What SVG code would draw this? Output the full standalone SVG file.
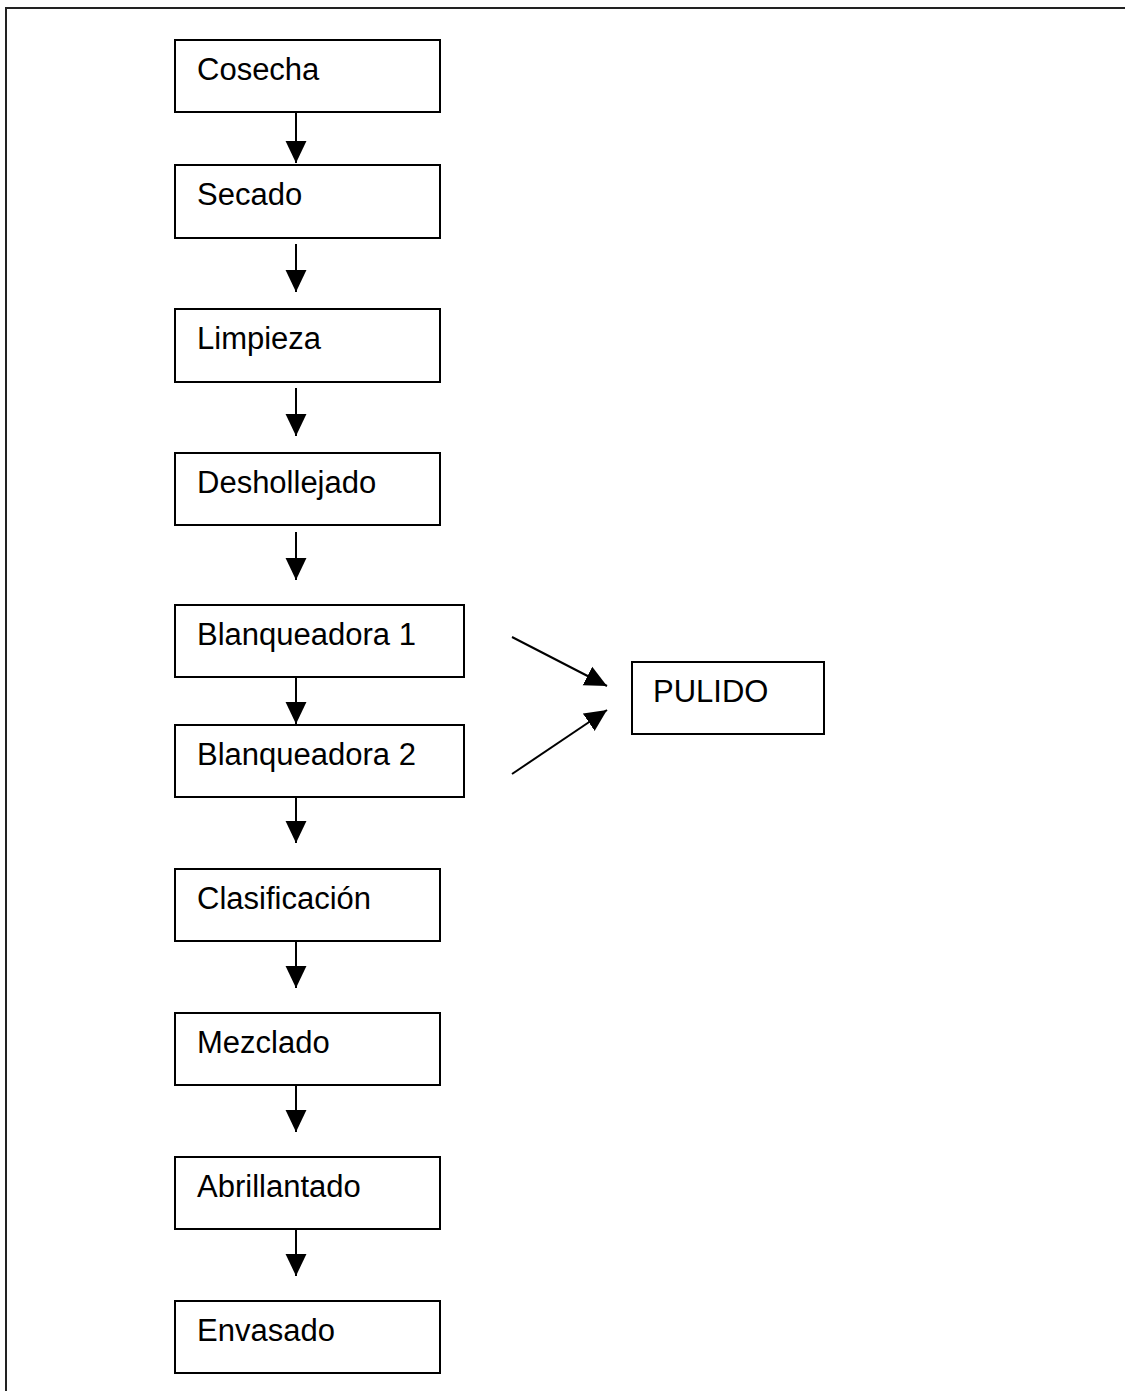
<svg xmlns="http://www.w3.org/2000/svg" width="1125" height="1391" viewBox="0 0 1125 1391">
<style>
.box{fill:#fff;stroke:#000;stroke-width:2}
.lbl{font-family:"Liberation Sans",Arial,sans-serif;font-size:31px;fill:#000}
.conn{stroke:#000;stroke-width:2;fill:none}
</style>
<defs>
<marker id="ah" markerUnits="userSpaceOnUse" markerWidth="22" markerHeight="22" viewBox="0 0 20 20" refX="20" refY="10" orient="auto">
<path d="M0,0.5 L20,10 L0,19.5 Z" fill="#000"/>
</marker>
</defs>
<rect width="1125" height="1391" fill="#fff"/>
<path d="M6,1391 V8 H1125" fill="none" stroke="#222" stroke-width="2"/>
<g id="cosecha"><rect class="box" x="175" y="40" width="265" height="72"/><text class="lbl" x="197" y="80">Cosecha</text></g>
<g id="secado"><rect class="box" x="175" y="165" width="265" height="73"/><text class="lbl" x="197" y="205">Secado</text></g>
<g id="limpieza"><rect class="box" x="175" y="309" width="265" height="73"/><text class="lbl" x="197" y="349">Limpieza</text></g>
<g id="deshollejado"><rect class="box" x="175" y="453" width="265" height="72"/><text class="lbl" x="197" y="493">Deshollejado</text></g>
<g id="blanqueadora1"><rect class="box" x="175" y="605" width="289" height="72"/><text class="lbl" x="197" y="645">Blanqueadora 1</text></g>
<g id="blanqueadora2"><rect class="box" x="175" y="725" width="289" height="72"/><text class="lbl" x="197" y="765">Blanqueadora 2</text></g>
<g id="pulido"><rect class="box" x="632" y="662" width="192" height="72"/><text class="lbl" x="653" y="702">PULIDO</text></g>
<g id="clasificacion"><rect class="box" x="175" y="869" width="265" height="72"/><text class="lbl" x="197" y="909">Clasificación</text></g>
<g id="mezclado"><rect class="box" x="175" y="1013" width="265" height="72"/><text class="lbl" x="197" y="1053">Mezclado</text></g>
<g id="abrillantado"><rect class="box" x="175" y="1157" width="265" height="72"/><text class="lbl" x="197" y="1197">Abrillantado</text></g>
<g id="envasado"><rect class="box" x="175" y="1301" width="265" height="72"/><text class="lbl" x="197" y="1341">Envasado</text></g>
<g id="connectors">
<line class="conn" x1="296" y1="112" x2="296" y2="163" marker-end="url(#ah)"/>
<line class="conn" x1="296" y1="244" x2="296" y2="292" marker-end="url(#ah)"/>
<line class="conn" x1="296" y1="388" x2="296" y2="436" marker-end="url(#ah)"/>
<line class="conn" x1="296" y1="532" x2="296" y2="580" marker-end="url(#ah)"/>
<line class="conn" x1="296" y1="677" x2="296" y2="724" marker-end="url(#ah)"/>
<line class="conn" x1="296" y1="797" x2="296" y2="843" marker-end="url(#ah)"/>
<line class="conn" x1="296" y1="941" x2="296" y2="988" marker-end="url(#ah)"/>
<line class="conn" x1="296" y1="1085" x2="296" y2="1132" marker-end="url(#ah)"/>
<line class="conn" x1="296" y1="1229" x2="296" y2="1276" marker-end="url(#ah)"/>
<line class="conn" x1="512" y1="637" x2="607" y2="686" marker-end="url(#ah)"/>
<line class="conn" x1="512" y1="774" x2="607" y2="710" marker-end="url(#ah)"/>
</g>
</svg>
